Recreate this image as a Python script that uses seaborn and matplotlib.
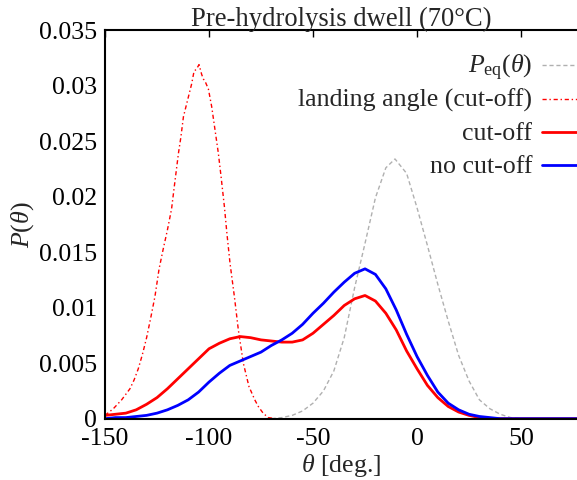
import matplotlib
matplotlib.use("Agg")
import matplotlib.pyplot as plt
import seaborn as sns
from matplotlib.lines import Line2D

# ---- data ----
peq_theta = [-80, -70, -65, -60, -55, -50, -45, -40, -35, -30, -25, -20, -15, -10.6, -5, 0, 5,
             10, 15, 20, 25, 30, 35, 40, 45, 50, 80]
peq_p = [0.0, 0.0, 0.0001, 0.0003, 0.0007, 0.0014, 0.0025, 0.0043, 0.0073, 0.0118, 0.0158, 0.0199,
         0.0226, 0.0234, 0.0221, 0.0190, 0.0156, 0.0121, 0.0088, 0.0057, 0.0034, 0.0017, 0.0009,
         0.0004, 0.0001, 0.0, 0.0]

land_theta = [-150, -148, -146, -144, -142, -140, -138, -136, -134, -132, -130, -128, -126, -124,
              -122, -120, -118, -116.7, -115.5, -114.7, -113.5, -112.3, -110.7, -108.3, -107.2,
              -106.0, -104.8, -103.5, -102.7, -101.9, -100.3, -98.7, -97.1, -95.5, -94.2, -92.6,
              -91.4, -89.9, -87.8, -85.9, -83.5, -80.8, -78.0, -76.3, -74.0, -71.5, -68, -60, -50]
land_p = [0.0003, 0.0006, 0.0009, 0.0013, 0.0017, 0.0022, 0.0027, 0.0035, 0.0045, 0.0058, 0.0073,
          0.0091, 0.0110, 0.0135, 0.0153, 0.0170, 0.0189, 0.0209, 0.0227, 0.0239, 0.0254, 0.0272,
          0.0284, 0.0302, 0.0313, 0.0315, 0.0319, 0.0310, 0.0306, 0.0304, 0.0297, 0.0281, 0.0260,
          0.0239, 0.0218, 0.0191, 0.0167, 0.0140, 0.0110, 0.0080, 0.0050, 0.0029, 0.0017, 0.0011,
          0.0005, 0.0001, 0.0, 0.0, 0.0]

cut_theta = [-150, -145, -140, -135, -130, -125, -120, -115, -110, -105, -100, -95, -90, -85, -80,
             -75, -70, -65, -60, -55, -50, -45, -40, -35, -30, -25, -20, -15, -10, -5, 0, 5, 10,
             15, 20, 25, 30, 35, 40, 80]
cut_p = [0.0003, 0.0004, 0.0005, 0.0008, 0.0013, 0.0019, 0.0027, 0.0036, 0.0045, 0.0054, 0.0063,
         0.0068, 0.0072, 0.0074, 0.0073, 0.0071, 0.0070, 0.0069, 0.0069, 0.0071, 0.0077, 0.0085,
         0.0093, 0.0102, 0.0108, 0.0111, 0.0106, 0.0095, 0.0080, 0.0061, 0.0045, 0.0030, 0.0019,
         0.0011, 0.0006, 0.0003, 0.0001, 0.0, 0.0, 0.0]

nocut_theta = [-150, -145, -140, -135, -130, -125, -120, -115, -110, -105, -100, -95, -90, -85,
               -80, -75, -70, -65, -60, -55, -50, -45, -40, -35, -30, -25, -20, -15, -10, -5, 0,
               5, 10, 15, 20, 25, 30, 35, 40, 80]
nocut_p = [0.0, 0.0001, 0.0001, 0.0002, 0.0003, 0.0005, 0.0008, 0.0012, 0.0017, 0.0024, 0.0033,
           0.0041, 0.0048, 0.0052, 0.0056, 0.0060, 0.0066, 0.0071, 0.0077, 0.0085, 0.0095, 0.0104,
           0.0114, 0.0123, 0.0131, 0.0135, 0.0130, 0.0117, 0.0098, 0.0076, 0.0056, 0.0039, 0.0024,
           0.0014, 0.0008, 0.0004, 0.0002, 0.0001, 0.0, 0.0]

x_ticks = [-150, -100, -50, 0, 50]
x_tick_labels = ["-150", "-100", "-50", "0", "50"]
y_ticks = [0, 0.005, 0.01, 0.015, 0.02, 0.025, 0.03, 0.035]
y_tick_labels = ["0", "0.005", "0.01", "0.015", "0.02", "0.025", "0.03", "0.035"]

title = "Pre-hydrolysis dwell (70°C)"
xlabel = r"$\theta$ [deg.]"
ylabel = r"$P(\theta)$"
labels = [r"$P_{\mathrm{eq}}(\theta)$", "landing angle (cut-off)", "cut-off", "no cut-off"]

# ---- style ----
sns.set_style("white")
plt.rcParams["font.family"] = ["Liberation Serif", "DejaVu Serif"]
plt.rcParams["mathtext.fontset"] = "custom"
plt.rcParams["mathtext.rm"] = "Liberation Serif"
plt.rcParams["mathtext.it"] = "Liberation Serif:italic"
plt.rcParams["mathtext.bf"] = "Liberation Serif:bold"
FS = 18.6

fig = plt.figure(figsize=(5.77, 4.80), dpi=100)
ax = fig.add_axes([105 / 577, 61.3 / 480, 472 / 577, 388.5 / 480])

styles = [
    dict(color="#b0b0b0", lw=1.0, linestyle=(0, (3, 2))),
    dict(color="#ff0000", lw=1.0, linestyle=(0, (3, 2, 1, 2))),
    dict(color="#ff0000", lw=2.0, linestyle="-"),
    dict(color="#0000ff", lw=2.0, linestyle="-"),
]
series = [(peq_theta, peq_p), (land_theta, land_p), (cut_theta, cut_p), (nocut_theta, nocut_p)]
for (xs, ys), st in zip(series, styles):
    sns.lineplot(x=xs, y=ys, ax=ax, sort=False, legend=False, **st)

ax.set_xlim(-150, 76.9)
ax.set_ylim(0, 0.035)
ax.set_xticks(x_ticks)
ax.set_xticklabels(x_tick_labels, fontsize=FS)
ax.set_yticks(y_ticks)
ax.set_yticklabels(y_tick_labels, fontsize=FS)
ax.tick_params(direction="in", length=5, width=1, top=True, right=False, colors="black", pad=6)
ax.tick_params(axis="x", pad=7)
for s in ["left", "bottom", "top"]:
    ax.spines[s].set_color("black")
    ax.spines[s].set_linewidth(1.5)
ax.spines["right"].set_visible(False)

ax.set_xlabel(xlabel, fontsize=FS, labelpad=1)
ax.set_ylabel(ylabel, fontsize=FS, labelpad=1.5)
ax.set_title(title, fontsize=19.2, pad=3)

# gnuplot-style key: right-aligned text, sample line on the right
row_y = [0.910, 0.823, 0.738, 0.653]
for lab, st, yy in zip(labels, styles, row_y):
    ax.text(0.905, yy - 0.0206, lab, transform=ax.transAxes, ha="right", va="baseline",
            fontsize=FS)
    ax.add_line(Line2D([0.926, 1.0], [yy, yy], transform=ax.transAxes, clip_on=False, **st))

fig.savefig("out.png", dpi=100)
